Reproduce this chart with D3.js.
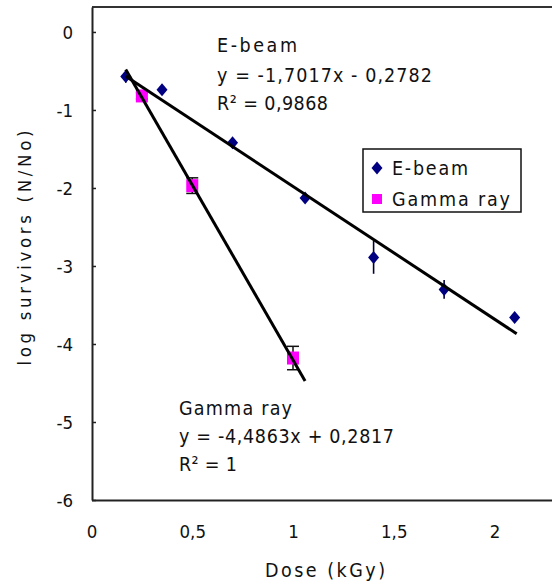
<!DOCTYPE html>
<html>
<head>
<meta charset="utf-8">
<script src="https://cdn.jsdelivr.net/npm/d3@7"></script>
<style>
  html, body { margin: 0; padding: 0; background: #fff; }
  svg { display: block; }
  text { font-family: "Liberation Sans Narrow", "DejaVu Sans Condensed", "Liberation Sans", sans-serif; fill: #111; }
</style>
</head>
<body>
<svg id="chart" width="552" height="583"></svg>
<script>
// ---- data ----
const ebeamDose = [0.17, 0.35, 0.70, 1.06, 1.40, 1.75, 2.10];
const ebeamLog  = [-0.57, -0.74, -1.42, -2.13, -2.89, -3.30, -3.66];
const ebeamErr  = [0.08, 0.04, 0.04, 0.05, 0.21, 0.12, 0.04];

const gammaDose = [0.25, 0.5, 1.0];
const gammaLog  = [-0.82, -1.97, -4.18];
const gammaErr  = [0.04, 0.10, 0.15];

// trendlines: [slope, intercept], and x extent
const ebeamFit = [-1.7017, -0.2782];
const ebeamFitRange = [0.17, 2.11];
const gammaFit = [-4.4863, 0.2817];
const gammaFitRange = [0.17, 1.06];

const xTickValues = [0, 0.5, 1, 1.5, 2];
const xTickLabels = ["0", "0,5", "1", "1,5", "2"];
const yTickValues = [0, -1, -2, -3, -4, -5, -6];
const yTickLabels = ["0", "-1", "-2", "-3", "-4", "-5", "-6"];

const ebeamText = ["E-beam", "y = -1,7017x - 0,2782", "R\u00B2 = 0,9868"];
const gammaText = ["Gamma ray", "y = -4,4863x + 0,2817", "R\u00B2 = 1"];
const seriesNames = ["E-beam", "Gamma ray"];
const xTitle = "Dose (kGy)";
const yTitle = "log survivors (N/No)";

// ---- layout ----
const svg = d3.select("#chart");
const x = d3.scaleLinear().domain([0, 2.3]).range([91.5, 91.5 + 2.3 * 201.5]);
const y = d3.scaleLinear().domain([-6, 0.32]).range([500, 7]);
const axisColor = "#222";

// top border of plot area
svg.append("line")
  .attr("x1", 92).attr("x2", 552).attr("y1", y(0.32)).attr("y2", y(0.32))
  .attr("stroke", "#333").attr("stroke-width", 2);

// y axis
const yAxis = d3.axisLeft(y)
  .tickValues(yTickValues)
  .tickFormat((d, i) => yTickLabels[i])
  .tickSizeInner(-4).tickSizeOuter(0).tickPadding(19);
const gy = svg.append("g").attr("transform", "translate(92,0)").call(yAxis);
gy.select(".domain").attr("stroke", axisColor).attr("stroke-width", 2);
gy.selectAll(".tick line").attr("stroke", axisColor).attr("stroke-width", 1.5);
gy.selectAll(".tick text").attr("font-size", 18.5).attr("dy", "0.36em")
  .style("font-family", "'Liberation Sans Narrow','DejaVu Sans Condensed',sans-serif")
  .attr("fill", "#111");

// x axis
const xAxis = d3.axisBottom(x)
  .tickValues(xTickValues)
  .tickFormat((d, i) => xTickLabels[i])
  .tickSizeInner(0).tickSizeOuter(0);
const gx = svg.append("g").attr("transform", "translate(0,500)").call(xAxis);
gx.select(".domain").attr("stroke", axisColor).attr("stroke-width", 2);
gx.selectAll(".tick text").attr("font-size", 18.5).attr("y", 38).attr("dy", null)
  .style("font-family", "'Liberation Sans Narrow','DejaVu Sans Condensed',sans-serif")
  .attr("fill", "#111");

// axis titles
svg.append("text").attr("x", 325).attr("y", 577).attr("text-anchor", "middle")
  .attr("font-size", 19.5).attr("textLength", 120).attr("lengthAdjust", "spacing")
  .text(xTitle);
svg.append("text").attr("transform", "translate(31,248) rotate(-90)")
  .attr("text-anchor", "middle").attr("font-size", 18.5)
  .attr("textLength", 235).attr("lengthAdjust", "spacing")
  .text(yTitle);

// error bars
const eData = ebeamDose.map((d, i) => ({x: d, y: ebeamLog[i], e: ebeamErr[i]}));
const gData = gammaDose.map((d, i) => ({x: d, y: gammaLog[i], e: gammaErr[i]}));

svg.append("g").selectAll("line").data(eData).join("line")
  .attr("x1", d => x(d.x)).attr("x2", d => x(d.x))
  .attr("y1", d => y(d.y + d.e)).attr("y2", d => y(d.y - d.e))
  .attr("stroke", "#00003a").attr("stroke-width", 1.6);

const gErr = svg.append("g");
gErr.selectAll("line.v").data(gData).join("line").attr("class", "v")
  .attr("x1", d => x(d.x)).attr("x2", d => x(d.x))
  .attr("y1", d => y(d.y + d.e)).attr("y2", d => y(d.y - d.e))
  .attr("stroke", "#111").attr("stroke-width", 1.5);
[1, -1].forEach(s => {
  gErr.selectAll("line.c" + (s > 0 ? "t" : "b")).data(gData).join("line")
    .attr("class", "c" + (s > 0 ? "t" : "b"))
    .attr("x1", d => x(d.x) - 6).attr("x2", d => x(d.x) + 6)
    .attr("y1", d => y(d.y + s * d.e)).attr("y2", d => y(d.y + s * d.e))
    .attr("stroke", "#111").attr("stroke-width", 1.5);
});

// markers
const diamond = "M0,-6.5L5.5,0L0,6.5L-5.5,0Z";
svg.append("g").selectAll("path").data(eData).join("path")
  .attr("d", diamond)
  .attr("transform", d => `translate(${x(d.x)},${y(d.y)})`)
  .attr("fill", "#000080");
svg.append("g").selectAll("rect").data(gData).join("rect")
  .attr("x", d => x(d.x) - 6).attr("y", d => y(d.y) - 6.5)
  .attr("width", 12).attr("height", 13)
  .attr("fill", "#ff00ff");

// trendlines
function fitLine(fit, range) {
  return range.map(v => [x(v), y(fit[0] * v + fit[1])]);
}
const lineGen = d3.line();
svg.append("path").attr("d", lineGen(fitLine(ebeamFit, ebeamFitRange)))
  .attr("stroke", "#000").attr("stroke-width", 3).attr("fill", "none");
svg.append("path").attr("d", lineGen(fitLine(gammaFit, gammaFitRange)))
  .attr("stroke", "#000").attr("stroke-width", 3).attr("fill", "none");

// trendline annotations
const ebeamPos = [[217, 52, 80], [217, 82, 215], [217, 110, 111]];
const gammaPos = [[179, 415, 113], [179, 443, 215], [179, 471, 58]];
function annot(texts, pos) {
  texts.forEach((t, i) => {
    svg.append("text").attr("x", pos[i][0]).attr("y", pos[i][1])
      .attr("font-size", 19.5)
      .attr("textLength", pos[i][2]).attr("lengthAdjust", "spacing")
      .text(t);
  });
}
annot(ebeamText, ebeamPos);
annot(gammaText, gammaPos);

// legend
const lg = svg.append("g");
lg.append("rect").attr("x", 363).attr("y", 149).attr("width", 158).attr("height", 63)
  .attr("fill", "#fff").attr("stroke", "#111").attr("stroke-width", 1.5);
lg.append("path").attr("d", diamond).attr("transform", "translate(377,168)").attr("fill", "#000080");
lg.append("rect").attr("x", 372).attr("y", 194).attr("width", 10).attr("height", 10).attr("fill", "#ff00ff");
const legW = [76, 118];
seriesNames.forEach((n, i) => {
  lg.append("text").attr("x", 392).attr("y", 175 + i * 31)
    .attr("font-size", 19.5).attr("textLength", legW[i]).attr("lengthAdjust", "spacing")
    .text(n);
});
</script>
</body>
</html>
